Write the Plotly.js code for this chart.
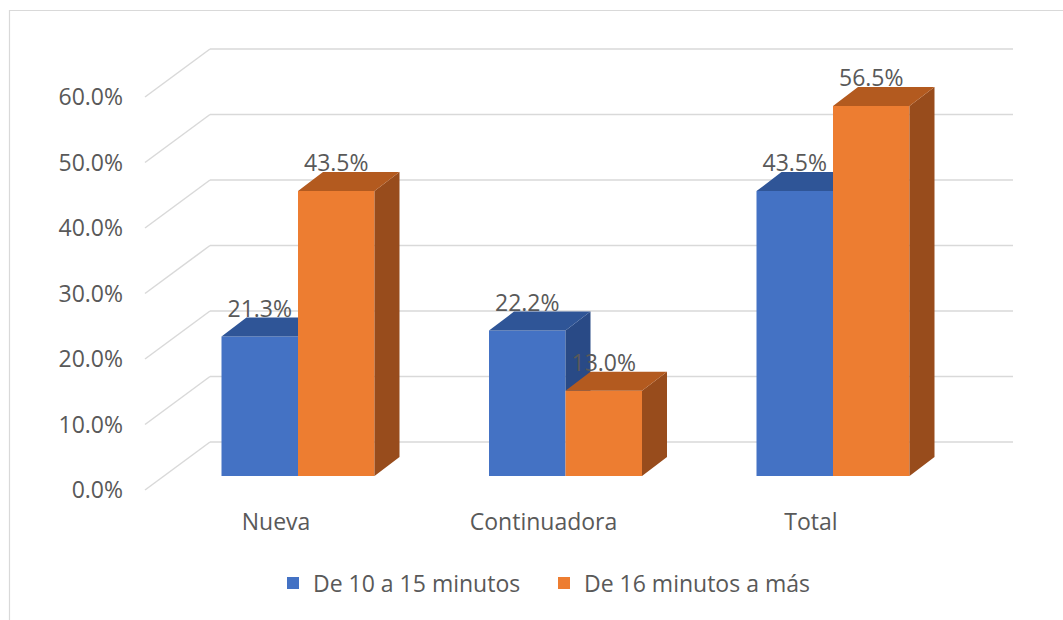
<!DOCTYPE html>
<html>
<head>
<meta charset="utf-8">
<script src="https://cdn.plot.ly/plotly-3.0.1.min.js"></script>
<style>html,body{margin:0;padding:0;background:#fff;}#chart{width:1063px;height:620px;}</style>
</head>
<body>
<div id="chart"></div>
<script>
// ---- data ----
const categories = ['Nueva', 'Continuadora', 'Total'];
const seriesNames = ['De 10 a 15 minutos', 'De 16 minutos a más'];
const serie1 = [0.213, 0.222, 0.435];
const serie2 = [0.435, 0.130, 0.565];
const yTicks = [0, 0.1, 0.2, 0.3, 0.4, 0.5, 0.6];

// ---- styles / geometry (pixels) ----
const W = 1063, H = 620;
const pxPerCat = 267.5, cat0Px = 298;
const pxPerUnit = 655, zeroPx = 476;
const barPx = 76.5;
const depthDxPx = 25, depthDyPx = 19;
const frontLeftPx = 145, backLeftPx = 210, backRightPx = 1013;
const frontDropPx = 14, backRisePx = 34;
const catLabelShiftPx = 22;
const labelDropPx = 5;
const textColor = '#595959';
const fontFam = '"Open Sans", "Liberation Sans", sans-serif';
const fsz = 23;
const colors = {
  front: ['#4472C4', '#ED7D31'],
  top: ['#2F5597', '#B35A1F'],
  side: ['#294A86', '#984C1C']
};

const ux = p => p / pxPerCat;
const uy = p => p / pxPerUnit;
const xRange = [(0 - cat0Px) / pxPerCat, (W - cat0Px) / pxPerCat];
const yRange = [-(H - zeroPx) / pxPerUnit, zeroPx / pxPerUnit];
const bw = ux(barPx), ddx = ux(depthDxPx), ddy = uy(depthDyPx);

const series = [serie1, serie2];
const xIdx = categories.map((c, i) => i);

const traces = [];
// front faces (bars)
series.forEach((vals, s) => {
  traces.push({
    type: 'bar', x: xIdx, y: vals, name: seriesNames[s],
    width: bw, offset: s === 0 ? -bw : 0,
    marker: {color: colors.front[s], line: {width: 0}},
    hoverinfo: 'skip'
  });
});

// 3D faces
function poly(pts, xs, ys) { pts.forEach(p => { xs.push(p[0]); ys.push(p[1]); }); xs.push(null); ys.push(null); }
series.forEach((vals, s) => {
  const sx = [], sy = [], tx = [], ty = [];
  vals.forEach((v, i) => {
    const xl = i + (s === 0 ? -bw : 0), xr = xl + bw;
    const next = s < series.length - 1 ? series[s + 1][i] : null;
    if (next === null) {
      poly([[xr, 0], [xr + ddx, ddy], [xr + ddx, v + ddy], [xr, v]], sx, sy);
      poly([[xl, v], [xr, v], [xr + ddx, v + ddy], [xl + ddx, v + ddy]], tx, ty);
    } else {
      if (next < v + ddy) {
        const lo = Math.max(next, 0);
        poly([[xr, lo], [xr + ddx, lo], [xr + ddx, v + ddy], [xr, v]], sx, sy);
        poly([[xl, v], [xr, v], [xr + ddx, v + ddy], [xl + ddx, v + ddy]], tx, ty);
      } else {
        poly([[xl, v], [xr, v], [xr, v + ddy], [xl + ddx, v + ddy]], tx, ty);
      }
    }
  });
  traces.push({type: 'scatter', mode: 'lines', x: sx, y: sy, fill: 'toself', fillcolor: colors.side[s],
    line: {width: 0, color: colors.side[s]}, showlegend: false, hoverinfo: 'skip'});
  traces.push({type: 'scatter', mode: 'lines', x: tx, y: ty, fill: 'toself', fillcolor: colors.top[s],
    line: {width: 0, color: colors.top[s]}, showlegend: false, hoverinfo: 'skip'});
});

// data labels
series.forEach((vals, s) => {
  traces.push({
    type: 'scatter', mode: 'text',
    x: xIdx.map(i => i + (s === 0 ? -bw / 2 : bw / 2)),
    y: vals.map(v => v + ddy - uy(labelDropPx)),
    text: vals.map(v => (v * 100).toFixed(1) + '%'),
    textposition: 'top center',
    textfont: {family: fontFam, size: fsz, color: textColor},
    showlegend: false, hoverinfo: 'skip', cliponaxis: false
  });
});

// dummy trace to bind label axes
traces.push({type: 'scatter', mode: 'markers', x: [0], y: [0], xaxis: 'x2', yaxis: 'y2',
  marker: {opacity: 0}, showlegend: false, hoverinfo: 'skip'});

// gridlines (perspective) as shapes below
const shapes = [];
yTicks.forEach(t => {
  const yF = t - uy(frontDropPx), yB = t + uy(backRisePx);
  const line = {color: '#D9D9D9', width: 1.5};
  shapes.push({type: 'line', layer: 'below', xref: 'x', yref: 'y',
    x0: ux(frontLeftPx - cat0Px), y0: yF, x1: ux(backLeftPx - cat0Px), y1: yB, line: line});
  shapes.push({type: 'line', layer: 'below', xref: 'x', yref: 'y',
    x0: ux(backLeftPx - cat0Px), y0: yB, x1: ux(backRightPx - cat0Px), y1: yB, line: line});
});
// chart border
shapes.push({type: 'rect', layer: 'below', xref: 'paper', yref: 'paper',
  x0: 9.5 / W, x1: 1.05, y0: -0.05, y1: (H - 10.5) / H, line: {color: '#D9D9D9', width: 1.2}, fillcolor: 'rgba(0,0,0,0)'});

const layout = {
  width: W, height: H,
  margin: {l: 0, r: 0, t: 0, b: 0},
  paper_bgcolor: '#fff', plot_bgcolor: '#fff',
  font: {family: fontFam, size: fsz, color: textColor},
  showlegend: true,
  legend: {orientation: 'h', x: 544 / W, xanchor: 'center', y: (H - 583) / H, yanchor: 'middle',
    entrywidth: 226, entrywidthmode: 'pixels',
    font: {family: fontFam, size: fsz, color: textColor}, bgcolor: 'rgba(0,0,0,0)'},
  xaxis: {range: xRange, visible: false, fixedrange: true},
  yaxis: {range: yRange, visible: false, fixedrange: true},
  xaxis2: {overlaying: 'x', anchor: 'free', position: (H - 506) / H, range: xRange.map(r => r + ux(catLabelShiftPx)),
    tickmode: 'array', tickvals: xIdx, ticktext: categories, showgrid: false, zeroline: false, showline: false, ticks: '',
    tickfont: {family: fontFam, size: fsz, color: textColor}},
  yaxis2: {overlaying: 'y', anchor: 'free', position: 123 / W, side: 'left',
    range: yRange.map(r => r + uy(frontDropPx)),
    tickmode: 'array', tickvals: yTicks, tickformat: '.1%', showgrid: false, zeroline: false, showline: false, ticks: '',
    tickfont: {family: fontFam, size: fsz, color: textColor}},
  shapes: shapes
};

Plotly.newPlot('chart', traces, layout, {displayModeBar: false, staticPlot: true});
</script>
</body>
</html>
